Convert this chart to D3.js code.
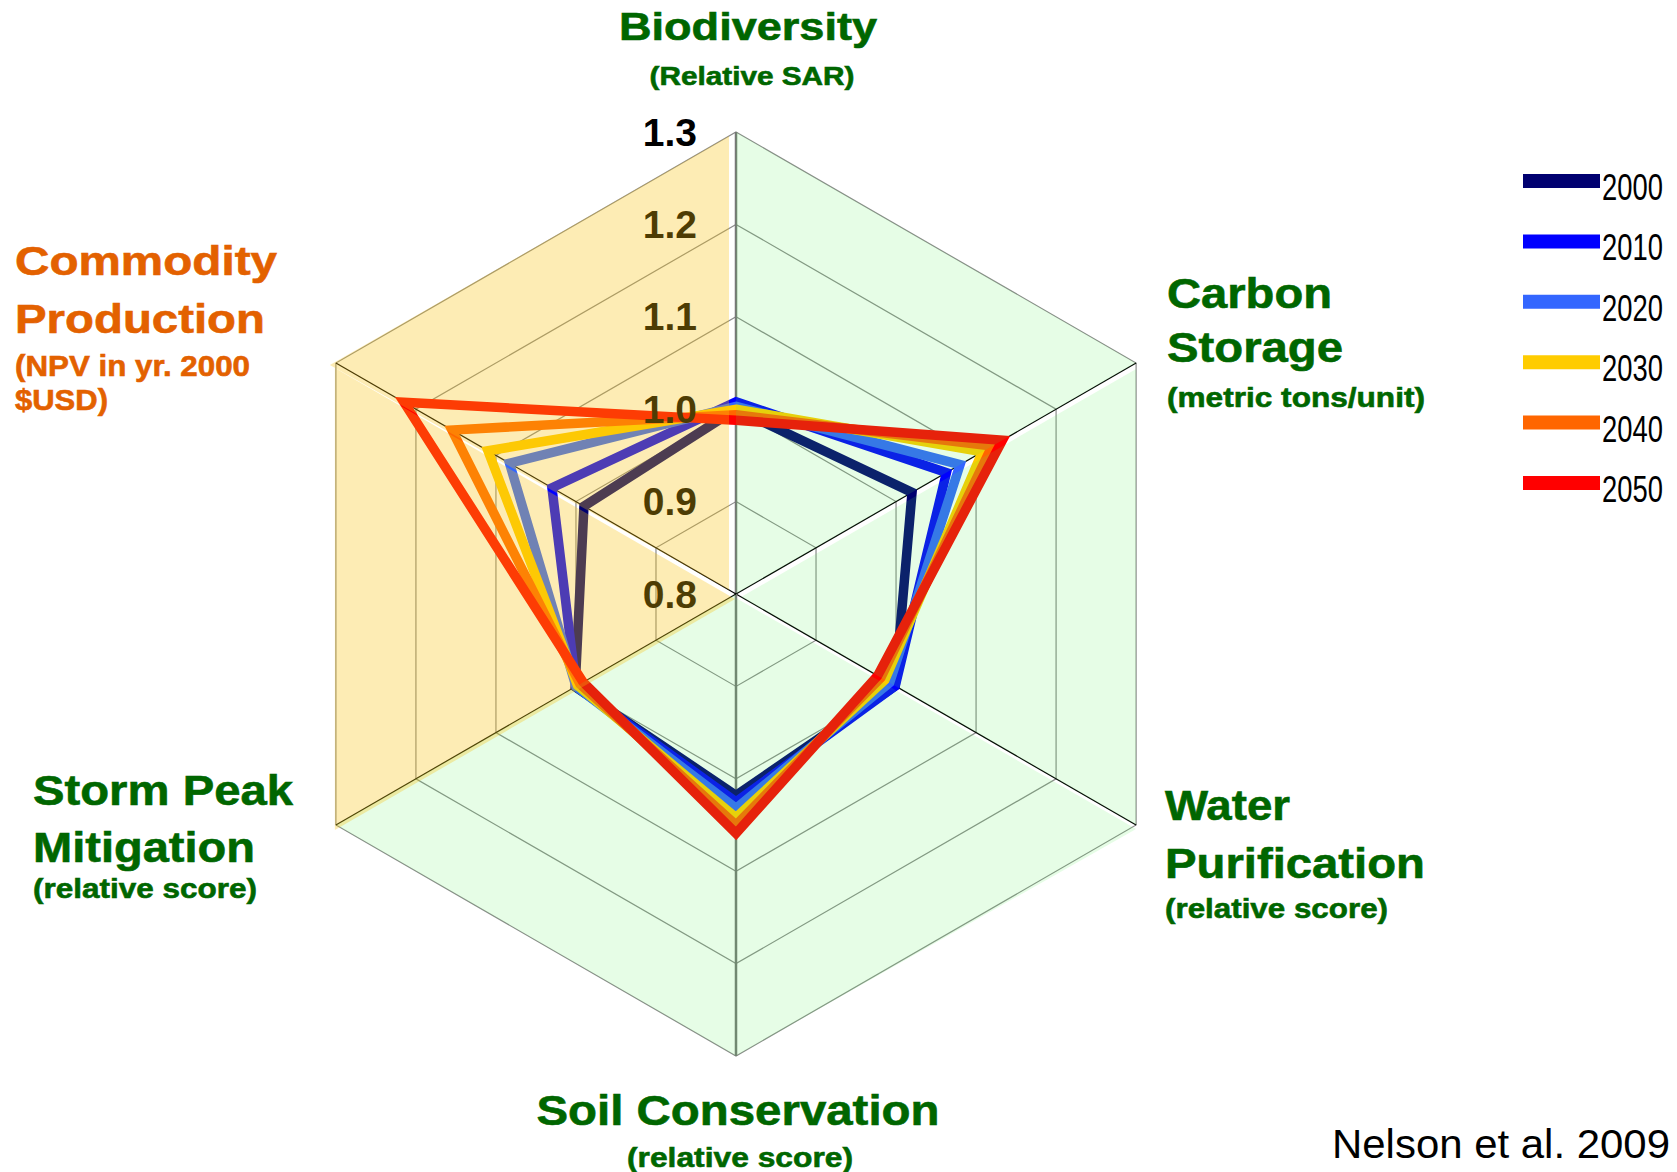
<!DOCTYPE html>
<html>
<head>
<meta charset="utf-8">
<style>
  body { margin: 0; background: white; }
  text { font-family: "Liberation Sans", Arial, sans-serif; }
</style>
</head>
<body>
<script src="https://cdn.jsdelivr.net/npm/d3@7"></script>
<script>
var width = 1677, height = 1172;
var cx = 736, cy = 594, R = 462;

// axes, clockwise from the top
var axes = ["Biodiversity", "Carbon Storage", "Water Purification",
            "Soil Conservation", "Storm Peak Mitigation", "Commodity Production"];
var years = ["2000", "2010", "2020", "2030", "2040", "2050"];
var colors = ["#000070", "#0000ff", "#3366ff", "#ffcc00", "#ff6600", "#ff0000"];

var v2000 = [1.000, 1.020, 0.999, 1.018, 1.001, 0.990];
var v2010 = [1.008, 1.063, 0.999, 1.025, 1.000, 1.030];
var v2020 = [1.003, 1.080, 0.992, 1.032, 1.000, 1.083];
var v2030 = [1.000, 1.108, 0.986, 1.042, 0.998, 1.110];
var v2040 = [0.994, 1.120, 0.981, 1.050, 0.995, 1.155];
var v2050 = [0.988, 1.133, 0.977, 1.059, 0.991, 1.215];
var series = [v2000, v2010, v2020, v2030, v2040, v2050];

var ticks = [0.8, 0.9, 1.0, 1.1, 1.2, 1.3];

var svg = d3.select("body").append("svg")
    .attr("width", width).attr("height", height);

var r = d3.scaleLinear().domain([0.8, 1.3]).range([0, R]);
var angle = i => i * Math.PI / 3;
var radial = d3.lineRadial()
    .angle((d, i) => angle(i))
    .radius(d => r(d))
    .curve(d3.curveLinearClosed);
function pt(i, v) {
  return [r(v) * Math.sin(angle(i)), -r(v) * Math.cos(angle(i))];
}

var g = svg.append("g").attr("transform", "translate(" + cx + "," + cy + ")");

// grid hexagons
g.selectAll("path.grid")
  .data(ticks.slice(1))
  .join("path")
    .attr("class", "grid")
    .attr("d", t => radial(axes.map(() => t)))
    .attr("fill", "none")
    .attr("stroke", "#8c8c8c")
    .attr("stroke-width", 1.2);

// spokes
g.selectAll("line.axis")
  .data(axes)
  .join("line")
    .attr("class", "axis")
    .attr("x1", 0).attr("y1", 0)
    .attr("x2", (d, i) => pt(i, 1.3)[0])
    .attr("y2", (d, i) => pt(i, 1.3)[1])
    .attr("stroke", (d, i) => i % 3 == 0 ? "#777" : "#000")
    .attr("stroke-width", (d, i) => i % 3 == 0 ? 2.5 : 1.2);

// series
g.selectAll("path.series")
  .data(series)
  .join("path")
    .attr("class", "series")
    .attr("d", d => radial(d))
    .attr("fill", "none")
    .attr("stroke", (d, i) => colors[i])
    .attr("stroke-width", 9.5)
    .attr("stroke-linejoin", "miter")
    .attr("stroke-miterlimit", 10);

// tick labels along the top spoke (drawn over the lines)
g.selectAll("text.tick")
  .data(ticks)
  .join("text")
    .attr("class", "tick")
    .attr("x", -39)
    .attr("y", d => -r(d) + 13.5)
    .attr("text-anchor", "end")
    .attr("font-size", 39)
    .attr("font-weight", "bold")
    .attr("fill", "#000")
    .text(d3.format(".1f"));

// translucent panels laid over the web (sector i spans spoke i to i+1)
var sectorFill = ["#4ff34f", "#4ff34f", "#4ff34f", "#4ff34f", "#f8c20d", "#f8c20d"];
var sectorAlpha = [0.14, 0.14, 0.14, 0.14, 0.31, 0.31];
// small pixel nudges of [centre, spoke i end, spoke i+1 end] that leave the white seams
var nudge = [
  [[0, 0], [0, 0], [0, 0]],
  [[5, 3], [0, 6], [0, 0]],
  [[0, 4], [0, 4], [0, 0]],
  [[0, 0], [0, 0], [0, 0]],
  [[-1, 5], [-1, 5], [-1, 5]],
  [[-7, -4], [-6, 2], [-7, 4]]
];
g.selectAll("path.panel")
  .data(d3.range(6))
  .join("path")
    .attr("class", "panel")
    .attr("d", i => {
      var p0 = [0, 0], p1 = pt(i, 1.3), p2 = pt((i + 1) % 6, 1.3);
      var n = nudge[i];
      var pts = [p0, p1, p2].map((p, k) => [p[0] + n[k][0], p[1] + n[k][1]]);
      return "M" + pts.join("L") + "Z";
    })
    .attr("fill", i => sectorFill[i])
    .attr("fill-opacity", i => sectorAlpha[i]);

// axis titles
var green = "#006600", orange = "#e36100";
var titles = [
  {t: "Biodiversity", x: 748, y: 40, s: 38, w: 258, a: "middle", c: green},
  {t: "(Relative SAR)", x: 752, y: 85, s: 26, w: 205, a: "middle", c: green},
  {t: "Carbon", x: 1167, y: 308, s: 43, w: 165, a: "start", c: green},
  {t: "Storage", x: 1167, y: 362, s: 43, w: 176, a: "start", c: green},
  {t: "(metric tons/unit)", x: 1167, y: 407, s: 28, w: 258, a: "start", c: green},
  {t: "Water", x: 1165, y: 820, s: 43, w: 125, a: "start", c: green},
  {t: "Purification", x: 1165, y: 878, s: 43, w: 260, a: "start", c: green},
  {t: "(relative score)", x: 1165, y: 918, s: 28, w: 223, a: "start", c: green},
  {t: "Soil Conservation", x: 738, y: 1125, s: 43, w: 403, a: "middle", c: green},
  {t: "(relative score)", x: 740, y: 1167, s: 28, w: 226, a: "middle", c: green},
  {t: "Storm Peak", x: 33, y: 805, s: 43, w: 260, a: "start", c: green},
  {t: "Mitigation", x: 33, y: 862, s: 43, w: 222, a: "start", c: green},
  {t: "(relative score)", x: 33, y: 898, s: 28, w: 224, a: "start", c: green},
  {t: "Commodity", x: 15, y: 275, s: 41, w: 262, a: "start", c: orange},
  {t: "Production", x: 15, y: 333, s: 41, w: 250, a: "start", c: orange},
  {t: "(NPV in yr. 2000", x: 15, y: 376, s: 29, w: 235, a: "start", c: orange},
  {t: "$USD)", x: 15, y: 410, s: 29, w: 93, a: "start", c: orange}
];
svg.selectAll("text.title")
  .data(titles)
  .join("text")
    .attr("class", "title")
    .attr("x", d => d.x)
    .attr("y", d => d.y)
    .attr("font-size", d => d.s)
    .attr("font-weight", "bold")
    .attr("fill", d => d.c)
    .attr("stroke", d => d.c)
    .attr("stroke-width", 0.6)
    .attr("text-anchor", d => d.a)
    .attr("textLength", d => d.w)
    .attr("lengthAdjust", "spacingAndGlyphs")
    .text(d => d.t);

// legend
var legend = svg.append("g").attr("transform", "translate(1523,181)");
var rows = legend.selectAll("g")
  .data(years)
  .join("g")
    .attr("transform", (d, i) => "translate(0," + i * 60.4 + ")");
rows.append("line")
    .attr("x1", 0).attr("x2", 77)
    .attr("stroke", (d, i) => colors[i])
    .attr("stroke-width", 14);
// condensed digits: squeeze the text horizontally
rows.append("text")
    .attr("transform", "translate(79,19) scale(0.74,1)")
    .attr("font-size", 37)
    .text(d => d);

svg.append("text")
    .attr("x", 1670)
    .attr("y", 1158)
    .attr("text-anchor", "end")
    .attr("font-size", 40)
    .attr("textLength", 338)
    .attr("lengthAdjust", "spacingAndGlyphs")
    .text("Nelson et al. 2009");
</script>
</body>
</html>
